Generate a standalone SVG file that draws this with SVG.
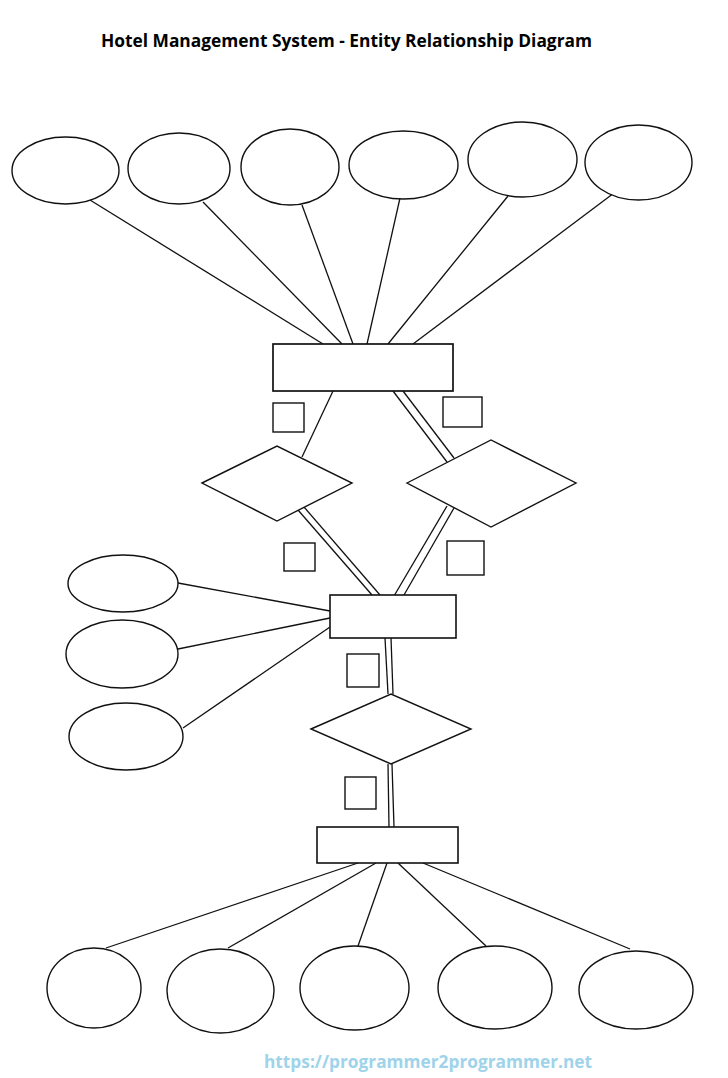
<svg xmlns="http://www.w3.org/2000/svg" width="728" height="1078" viewBox="0 0 728 1078">
<style>
.s{fill:#fff;stroke:#111;stroke-width:1.4}
.c{stroke:#111;stroke-width:1.3;fill:none}
.t{font-family:"Open Sans","Liberation Sans",Arial,sans-serif;font-weight:bold;font-size:18px;fill:#000}
.w{font-family:"Open Sans","Liberation Sans",sans-serif;font-weight:bold;font-size:18px;fill:#9ed3ea}
</style>
<rect width="728" height="1078" fill="#fff"/>
<text class="t" x="101" y="47" textLength="491" lengthAdjust="spacingAndGlyphs">Hotel Management System - Entity Relationship Diagram</text>
<g id="connectors">
<line class="c" x1="90" y1="200" x2="323" y2="344"/>
<line class="c" x1="203" y1="202" x2="342" y2="344"/>
<line class="c" x1="302" y1="205" x2="353" y2="344"/>
<line class="c" x1="400" y1="198" x2="367" y2="344"/>
<line class="c" x1="508" y1="196" x2="388" y2="344"/>
<line class="c" x1="614" y1="193" x2="413" y2="344"/>
<line class="c" x1="333" y1="391" x2="302" y2="457"/>
<line class="c" x1="393" y1="391" x2="447" y2="462"/>
<line class="c" x1="403" y1="391" x2="454" y2="458"/>
<line class="c" x1="298" y1="510" x2="372" y2="595"/>
<line class="c" x1="304" y1="507" x2="380" y2="595"/>
<line class="c" x1="447" y1="506" x2="394" y2="596"/>
<line class="c" x1="454" y1="508" x2="404" y2="595"/>
<line class="c" x1="178" y1="583" x2="330" y2="611"/>
<line class="c" x1="178" y1="649" x2="330" y2="618"/>
<line class="c" x1="183" y1="728" x2="330" y2="627"/>
<line class="c" x1="385" y1="638" x2="388" y2="694"/>
<line class="c" x1="391" y1="638" x2="393" y2="694"/>
<line class="c" x1="388" y1="764" x2="389" y2="827"/>
<line class="c" x1="392" y1="764" x2="394" y2="827"/>
<line class="c" x1="358" y1="863" x2="106" y2="948"/>
<line class="c" x1="376" y1="863" x2="228" y2="948"/>
<line class="c" x1="387" y1="863" x2="358" y2="946"/>
<line class="c" x1="398" y1="863" x2="486" y2="946"/>
<line class="c" x1="423" y1="863" x2="630" y2="949"/>
</g>
<g id="attr-top-1"><ellipse class="s" cx="65.5" cy="170.5" rx="53.5" ry="33.5"/></g>
<g id="attr-top-2"><ellipse class="s" cx="179" cy="168.5" rx="51" ry="35.5"/></g>
<g id="attr-top-3"><ellipse class="s" cx="290" cy="167" rx="49" ry="38"/></g>
<g id="attr-top-4"><ellipse class="s" cx="403.5" cy="165" rx="54.5" ry="34"/></g>
<g id="attr-top-5"><ellipse class="s" cx="522.5" cy="159.5" rx="54.5" ry="37.5"/></g>
<g id="attr-top-6"><ellipse class="s" cx="638.5" cy="162.5" rx="53.5" ry="37.5"/></g>
<g id="entity-top"><rect class="s" x="273" y="344" width="180" height="47" style="stroke-width:1.7"/></g>
<g id="card-1"><rect class="s" x="273" y="403" width="31" height="29"/></g>
<g id="card-2"><rect class="s" x="443" y="397" width="39" height="30"/></g>
<g id="rel-left"><polygon class="s" points="202,483 277,446 352,483 277,521"/></g>
<g id="rel-right"><polygon class="s" points="407,483 491,440 576,483 491,527"/></g>
<g id="card-3"><rect class="s" x="284" y="543" width="31" height="28"/></g>
<g id="card-4"><rect class="s" x="447" y="541" width="37" height="34"/></g>
<g id="entity-middle"><rect class="s" x="330" y="595" width="126" height="43" style="stroke-width:1.6"/></g>
<g id="attr-left-1"><ellipse class="s" cx="123" cy="583.5" rx="55" ry="28.5"/></g>
<g id="attr-left-2"><ellipse class="s" cx="122" cy="654" rx="56" ry="34"/></g>
<g id="attr-left-3"><ellipse class="s" cx="126" cy="736.5" rx="57" ry="33.5"/></g>
<g id="card-5"><rect class="s" x="347" y="654" width="32" height="33"/></g>
<g id="rel-bottom"><polygon class="s" points="311,729 391,694 471,729 391,764"/></g>
<g id="card-6"><rect class="s" x="345" y="777" width="31" height="32"/></g>
<g id="entity-bottom"><rect class="s" x="317" y="827" width="141" height="36" style="stroke-width:1.6"/></g>
<g id="attr-bottom-1"><ellipse class="s" cx="94" cy="988" rx="47" ry="40"/></g>
<g id="attr-bottom-2"><ellipse class="s" cx="220.5" cy="991" rx="53.5" ry="42"/></g>
<g id="attr-bottom-3"><ellipse class="s" cx="354.5" cy="988" rx="54.5" ry="42"/></g>
<g id="attr-bottom-4"><ellipse class="s" cx="495" cy="987.5" rx="57" ry="41.5"/></g>
<g id="attr-bottom-5"><ellipse class="s" cx="636" cy="990" rx="57" ry="39"/></g>
<text class="w" x="264" y="1068" textLength="328" lengthAdjust="spacingAndGlyphs">https://programmer2programmer.net</text>
</svg>
